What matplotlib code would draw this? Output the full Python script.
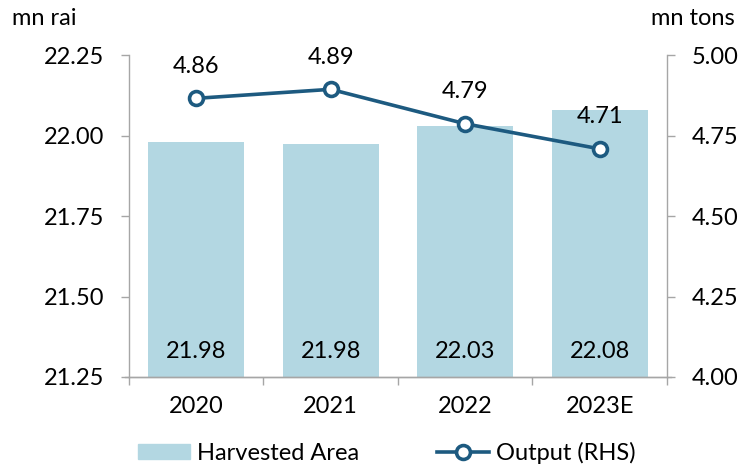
import matplotlib
matplotlib.use("Agg")
import matplotlib.pyplot as plt
import numpy as np
from matplotlib.patches import Patch
from matplotlib.lines import Line2D

plt.rcParams['font.family'] = ['Lato', 'DejaVu Sans']

years = ['2020', '2021', '2022', '2023E']
area = [21.98, 21.975, 22.03, 22.08]
area_labels = ['21.98', '21.98', '22.03', '22.08']
output = [4.866, 4.894, 4.787, 4.709]
output_labels = ['4.86', '4.89', '4.79', '4.71']

bar_color = '#B3D7E2'
line_color = '#1D5A80'
grey = '#A6A6A6'
fs = 17

fig = plt.figure(figsize=(7.41, 4.76), dpi=100)
ax = fig.add_axes([0.174, 0.208, 0.726, 0.676])
ax2 = ax.twinx()

x = np.arange(len(years))
ax.bar(x, area, width=0.715, color=bar_color, bottom=0, zorder=1)
ax.set_ylim(21.25, 22.25)
ax.set_yticks([21.25, 21.50, 21.75, 22.00, 22.25])
ax.set_yticklabels([f'{v:.2f}' for v in ax.get_yticks()])
ax.set_xlim(-0.5, len(years) - 0.5)
ax.set_xticks(x)
ax.set_xticklabels(years)
ax.set_xticks(np.arange(-0.5, len(years)), minor=True)
ax.tick_params(axis='x', which='major', length=0, pad=14, labelsize=fs)
ax.tick_params(axis='x', which='minor', length=6, color=grey, width=1)
ax.tick_params(axis='y', length=6, color=grey, width=1, pad=12, labelsize=fs)

for i, lab in enumerate(area_labels):
    ax.annotate(lab, (x[i], 21.25), xytext=(0, 18), textcoords='offset points',
                ha='center', va='center', fontsize=fs)

ax2.plot(x, output, color=line_color, lw=2.6, marker='o', ms=10,
         mfc='white', mec=line_color, mew=2.6, zorder=3)
ax2.set_ylim(4.0, 5.0)
ax2.set_yticks([4.00, 4.25, 4.50, 4.75, 5.00])
ax2.set_yticklabels([f'{v:.2f}' for v in ax2.get_yticks()])
ax2.tick_params(axis='y', length=6, color=grey, width=1, pad=12, labelsize=fs)
for i, lab in enumerate(output_labels):
    ax2.annotate(lab, (x[i], output[i]), xytext=(0, 23), textcoords='offset points',
                 ha='center', va='center', fontsize=fs)

for a in (ax, ax2):
    a.spines['top'].set_visible(False)
    for s in ('left', 'right', 'bottom'):
        a.spines[s].set_color(grey)
        a.spines[s].set_linewidth(1)
ax.spines['right'].set_visible(False)
ax2.spines['left'].set_visible(False)
ax2.spines['bottom'].set_visible(False)
# Excel-style axis line running past both vertical axes
ax.plot([-0.53, len(years) - 0.47], [21.25, 21.25], color=grey, lw=1,
        clip_on=False, zorder=2)

fig.text(0.016, 0.962, 'mn rai', fontsize=fs, va='center', ha='left')
fig.text(0.992, 0.962, 'mn tons', fontsize=fs, va='center', ha='right')

handles = [Patch(color=bar_color, label='Harvested Area'),
           Line2D([], [], color=line_color, lw=2.6, marker='o', ms=10,
                  mfc='white', mec=line_color, mew=2.6, label='Output (RHS)')]
fig.legend(handles=handles, loc='lower center', bbox_to_anchor=(0.522, -0.02),
           ncol=2, frameon=False, fontsize=fs, handlelength=2.2,
           handleheight=0.6, columnspacing=3.3, handletextpad=0.3)

fig.savefig('out.png', dpi=100)
